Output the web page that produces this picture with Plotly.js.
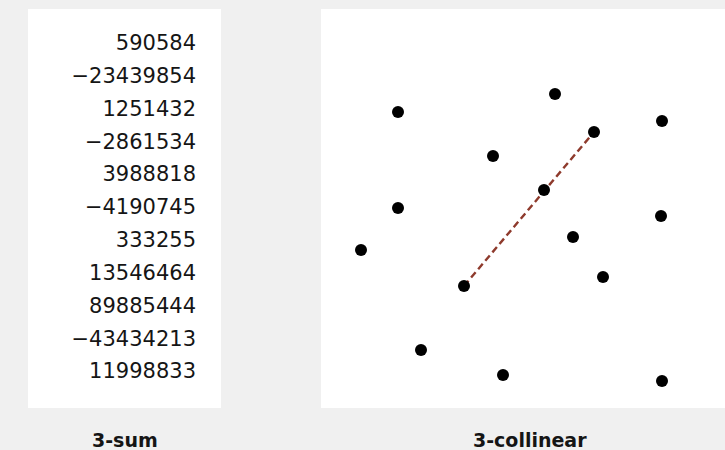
<!DOCTYPE html>
<html>
<head>
<meta charset="utf-8">
<script src="https://cdn.plot.ly/plotly-3.0.1.min.js"></script>
<style>html,body{margin:0;padding:0;background:#f0f0f0;}#chart{width:725px;height:450px;}</style>
</head>
<body>
<div id="chart"></div>
<script>
// 3-sum input values
const sumValues = [590584, -23439854, 1251432, -2861534, 3988818, -4190745, 333255, 13546464, 89885444, -43434213, 11998833];
// 3-collinear points (data units)
const pointsX = [77, 234, 341, 273, 172, 223, 77, 340, 40, 252, 282, 143, 100, 182, 341];
const pointsY = [296, 314, 287, 276, 252, 218, 200, 192, 158, 171, 131, 122, 58, 33, 27];
// collinear segment endpoints (indices into points)
const segment = [11, 3];
const panelLabels = ["3-sum", "3-collinear"];

const W = 725, H = 450;
const panelTop = 9, panelBottom = 408;

const rowIdx = sumValues.map((v, i) => i);
const sumText = sumValues.map(v => String(v).replace('-', '\u2212'));

const traces = [
  {
    x: sumValues.map(() => 168), y: rowIdx, text: sumText,
    mode: 'text', textposition: 'middle left', type: 'scatter',
    textfont: {family: 'DejaVu Sans', size: 21, color: '#151515'},
    xaxis: 'x', yaxis: 'y', hoverinfo: 'skip', cliponaxis: false
  },
  {
    x: segment.map(i => pointsX[i]), y: segment.map(i => pointsY[i]),
    mode: 'lines', type: 'scatter',
    line: {color: '#8e3a2c', width: 2.4, dash: '7px,4px'},
    xaxis: 'x2', yaxis: 'y2', hoverinfo: 'skip'
  },
  {
    x: pointsX, y: pointsY, mode: 'markers', type: 'scatter',
    marker: {color: '#000000', size: 12},
    xaxis: 'x2', yaxis: 'y2', hoverinfo: 'skip', cliponaxis: false
  }
];

const hidden = {showgrid: false, zeroline: false, showticklabels: false, ticks: '', showline: false, fixedrange: true};
const ydom = [(H - panelBottom) / H, (H - panelTop) / H];

const layout = {
  width: W, height: H,
  margin: {l: 0, r: 0, t: 0, b: 0, pad: 0},
  paper_bgcolor: '#f0f0f0',
  plot_bgcolor: '#ffffff',
  showlegend: false,
  xaxis: Object.assign({domain: [28 / W, 221 / W], range: [0, 193]}, hidden),
  yaxis: Object.assign({domain: ydom, range: [11.06, -1.09]}, hidden),
  xaxis2: Object.assign({domain: [321 / W, 1], range: [0, 404], anchor: 'y2'}, hidden),
  yaxis2: Object.assign({domain: ydom, range: [0, 399], anchor: 'x2'}, hidden),
  annotations: [
    {text: '<b>' + panelLabels[0] + '</b>', xref: 'paper', yref: 'paper', x: 125 / W, y: (H - 440) / H,
     xanchor: 'center', yanchor: 'middle', showarrow: false,
     font: {family: 'DejaVu Sans', size: 19, color: '#151515'}},
    {text: '<b>' + panelLabels[1] + '</b>', xref: 'paper', yref: 'paper', x: 530 / W, y: (H - 440) / H,
     xanchor: 'center', yanchor: 'middle', showarrow: false,
     font: {family: 'DejaVu Sans', size: 19, color: '#151515'}}
  ]
};

Plotly.newPlot('chart', traces, layout, {staticPlot: true, displayModeBar: false});
</script>
</body>
</html>
